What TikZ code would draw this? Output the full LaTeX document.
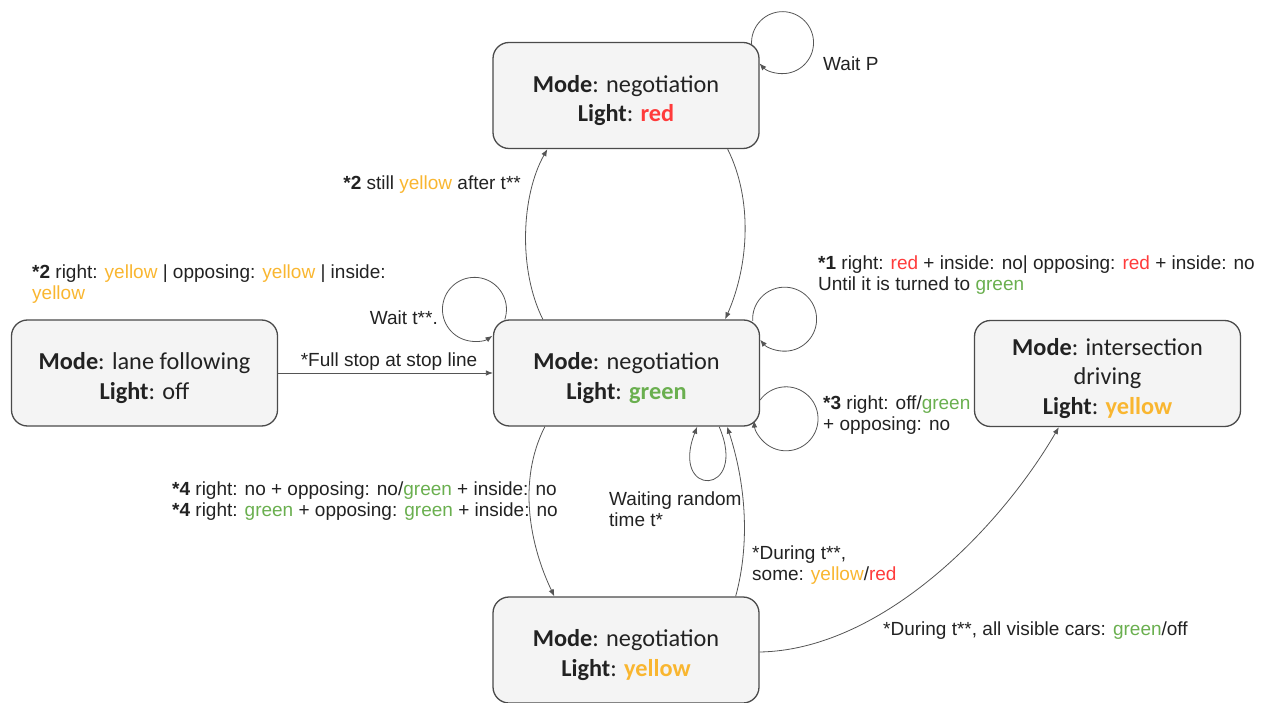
\documentclass[tikz,border=0pt]{standalone}
\usepackage{fontspec}
\setmainfont{Liberation Sans}
\newfontfamily\carlito{Carlito}
\usetikzlibrary{arrows.meta,calc}
\definecolor{cred}{HTML}{FF3B3B}
\definecolor{cyel}{HTML}{F9B630}
\definecolor{cgrn}{HTML}{6AAF4F}
\definecolor{ctxt}{HTML}{222222}
\definecolor{cline}{HTML}{555555}
\definecolor{cfill}{HTML}{F4F4F4}
\definecolor{cborder}{HTML}{4A4A4A}
\newcommand\nstrut{\rule{0pt}{27pt}}
\tikzset{
 stbox/.style={draw=cborder, fill=cfill, line width=1.3pt, rounded corners=16pt,
   minimum width=266pt, minimum height=106pt, inner sep=0pt, align=center,
   text=ctxt, font=\carlito\fontsize{24.3}{29.5}\selectfont},
 lbl/.style={inner sep=0pt, align=left, text=ctxt, font=\fontsize{19}{21.5}\selectfont},
 conn/.style={draw=cline, line width=0.8pt, -{Latex[length=7pt,width=5.5pt]}},
}
\begin{document}
\begin{tikzpicture}[x=1pt,y=1pt]
\path[use as bounding box] (0,0) rectangle (1265,-703);
% states
\node[stbox] (r) at (626,-95.5) {\nstrut\textbf{Mode}: negotiation\\\textbf{Light}: \textcolor{cred}{\textbf{red}}};
\node[stbox] (lf) at (144.5,-373) {\nstrut\textbf{Mode}: lane following\\\textbf{Light}: off};
\node[stbox] (g) at (626.5,-373) {\nstrut\textbf{Mode}: negotiation\\\textbf{Light}: \textcolor{cgrn}{\textbf{green}}};
\node[stbox] (i) at (1107.5,-373.5) {\nstrut\textbf{Mode}: intersection\\driving\\\textbf{Light}: \textcolor{cyel}{\textbf{yellow}}};
\node[stbox] (y) at (626,-650) {\nstrut\textbf{Mode}: negotiation\\\textbf{Light}: \textcolor{cyel}{\textbf{yellow}}};
% labels
\node[lbl, anchor=west] (lwp) at (823,-64) {Wait P};
\node[lbl, anchor=east] (l2s) at (521,-185) {\textbf{*2} still \textcolor{cyel}{yellow} after t**};
\node[lbl, anchor=west] (l2r) at (32,-284) {\textbf{*2} right: \textcolor{cyel}{yellow} | opposing: \textcolor{cyel}{yellow} | inside:\\\textcolor{cyel}{yellow}};
\node[lbl, anchor=east] (lwt) at (438,-318) {Wait t**.};
\node[lbl] (lfs) at (389,-362) {*Full stop at stop line};
\node[lbl, anchor=west] (l1) at (818,-275) {\textbf{*1} right: \textcolor{cred}{red} + inside: no| opposing: \textcolor{cred}{red} + inside: no\\Until it is turned to \textcolor{cgrn}{green}};
\node[lbl, anchor=west] (l3) at (823,-415) {\textbf{*3} right: off/\textcolor{cgrn}{green}\\+ opposing: no};
\node[lbl, anchor=west] (l4) at (172,-501) {\textbf{*4} right: no + opposing: no/\textcolor{cgrn}{green} + inside: no\\\textbf{*4} right: \textcolor{cgrn}{green} + opposing: \textcolor{cgrn}{green} + inside: no};
\node[lbl, anchor=west] (lwr) at (609,-509) {Waiting random\\time t*};
\node[lbl, anchor=west] (ldu) at (752,-565) {*During t**,\\some: \textcolor{cyel}{yellow}/\textcolor{cred}{red}};
\node[lbl, anchor=west] (lda) at (883,-631) {*During t**, all visible cars: \textcolor{cgrn}{green}/off};
% connectors
\draw[conn] (lf.east) -- (g.west);
\draw[conn] ($(g.north west)+(50,0)$) .. controls +(-25,50) and +(-26,-46) .. ($(r.south west)+(55,0)$);
\draw[conn] ($(r.south east)+(-32,0)$) .. controls +(25,-50) and +(24,55) .. ($(g.north east)+(-35,0)$);
\draw[conn] ($(g.south west)+(52,0)$) .. controls +(-28,-55) and +(-24,50) .. ($(y.north west)+(62,0)$);
\draw[conn] ($(y.north east)+(-24,0)$) .. controls +(15,55) and +(18,-55) .. ($(g.south east)+(-33,0)$);
\draw[conn] ($(g.south east)+(-41,0)$) .. controls +(30,-70) and +(-28,-72) .. ($(g.south east)+(-63,0)$);
\draw[conn] ($(y.east)+(0,-2)$) .. controls +(121,2) and +(-60,-103) .. ($(i.south west)+(85,0)$);
% self loops
\draw[conn] ($(g.north west)+(12,0)$) arc[start angle=-18.2, end angle=304.2, radius=32];
\draw[conn] ($(r.north east)+(-8,-3.5)$) arc[start angle=185, end angle=-138, radius=31];
\draw[conn] ($(g.north east)+(-7.5,-1.5)$) arc[start angle=183, end angle=-140, radius=32];
\draw[conn] ($(g.east)+(0,-27)$) arc[start angle=144, end angle=-177, radius=32];
\end{tikzpicture}
\end{document}
